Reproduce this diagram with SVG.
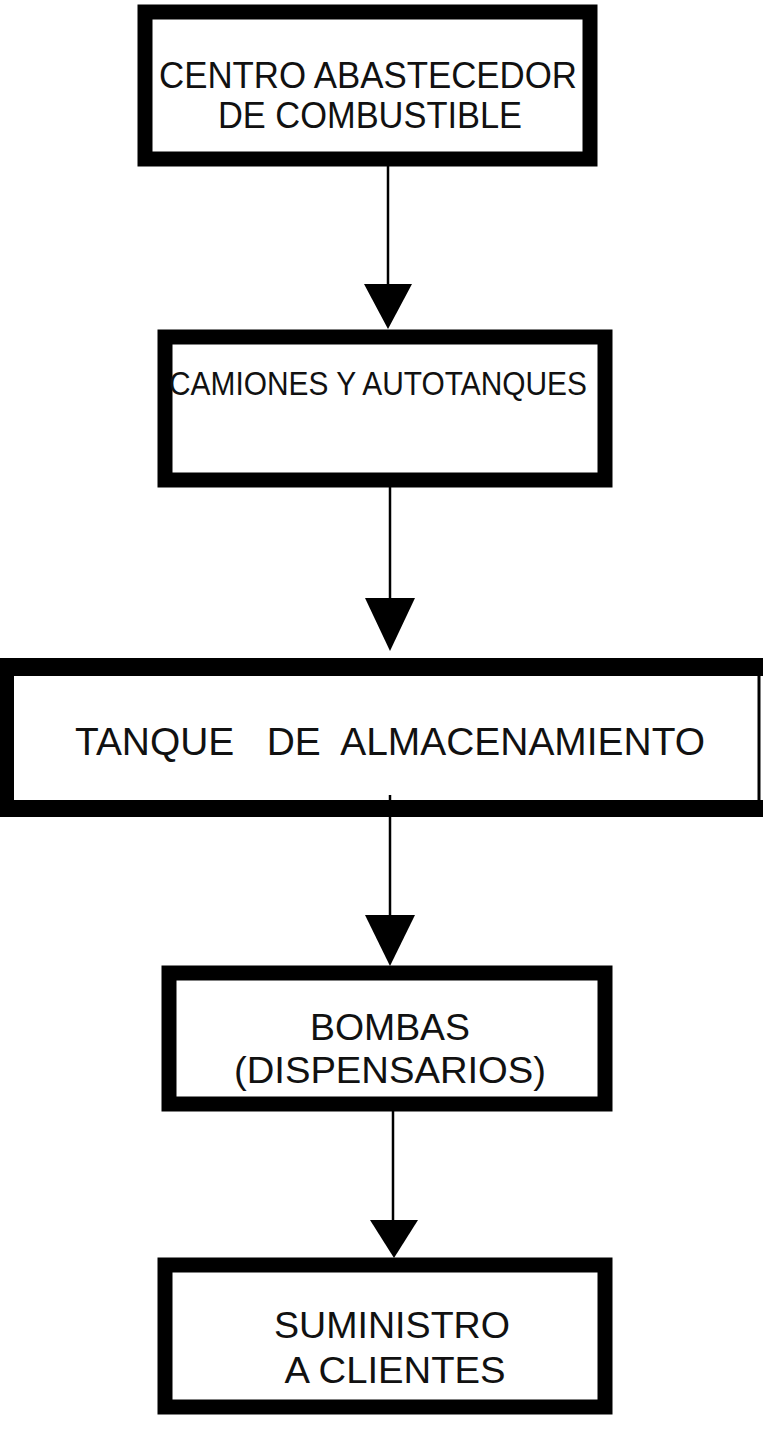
<svg xmlns="http://www.w3.org/2000/svg" width="763" height="1432" viewBox="0 0 763 1432">
<style>
.box{fill:#fff;stroke:#000;stroke-width:15}
.t{font-family:"Liberation Sans",Arial,sans-serif;fill:#111;text-anchor:middle}
.ln{stroke:#000;stroke-width:2.5;fill:none}
.ah{fill:#000}
</style>
<rect width="763" height="1432" fill="#fff"/>
<g id="connectors">
<line class="ln" x1="388" y1="160" x2="388" y2="286"/>
<path class="ah" d="M364,284 L412,284 L388,329 Z"/>
<line class="ln" x1="390" y1="480" x2="390" y2="600"/>
<path class="ah" d="M365,598 L415,598 L390,651 Z"/>
<line class="ln" x1="390" y1="795" x2="390" y2="917"/>
<path class="ah" d="M365,915 L415,915 L390,966 Z"/>
<line class="ln" x1="393" y1="1104" x2="393" y2="1222"/>
<path class="ah" d="M370,1220 L418,1220 L394,1258 Z"/>
</g>
<g id="node1">
<rect class="box" x="145" y="12" width="445" height="147"/>
<text class="t" x="368" y="88" font-size="36" textLength="418" lengthAdjust="spacingAndGlyphs">CENTRO ABASTECEDOR</text>
<text class="t" x="370" y="128" font-size="36" textLength="304" lengthAdjust="spacingAndGlyphs">DE COMBUSTIBLE</text>
</g>
<g id="node2">
<rect class="box" x="165" y="337" width="440" height="143"/>
<text class="t" x="378" y="395" font-size="34" textLength="418" lengthAdjust="spacingAndGlyphs">CAMIONES Y AUTOTANQUES</text>
</g>
<g id="node3">
<rect x="0" y="658" width="763" height="159" fill="#fff"/>
<path d="M0,658 H763 V676 H14 V800 H763 V817 H0 Z" fill="#000"/>
<line x1="759" y1="676" x2="759" y2="800" stroke="#000" stroke-width="3"/>
<line class="ln" x1="390" y1="795" x2="390" y2="817"/>
<text class="t" x="390" y="755" font-size="38" textLength="630" lengthAdjust="spacingAndGlyphs" xml:space="preserve">TANQUE   DE  ALMACENAMIENTO</text>
</g>
<g id="node4">
<rect class="box" x="169" y="973" width="436" height="131"/>
<text class="t" x="390" y="1040" font-size="36" textLength="160" lengthAdjust="spacingAndGlyphs">BOMBAS</text>
<text class="t" x="390" y="1083" font-size="36" textLength="312" lengthAdjust="spacingAndGlyphs">(DISPENSARIOS)</text>
</g>
<g id="node5">
<rect class="box" x="165" y="1265" width="440" height="142"/>
<text class="t" x="392" y="1338" font-size="36" textLength="236" lengthAdjust="spacingAndGlyphs">SUMINISTRO</text>
<text class="t" x="395" y="1383" font-size="36" textLength="221" lengthAdjust="spacingAndGlyphs">A CLIENTES</text>
</g>
</svg>
